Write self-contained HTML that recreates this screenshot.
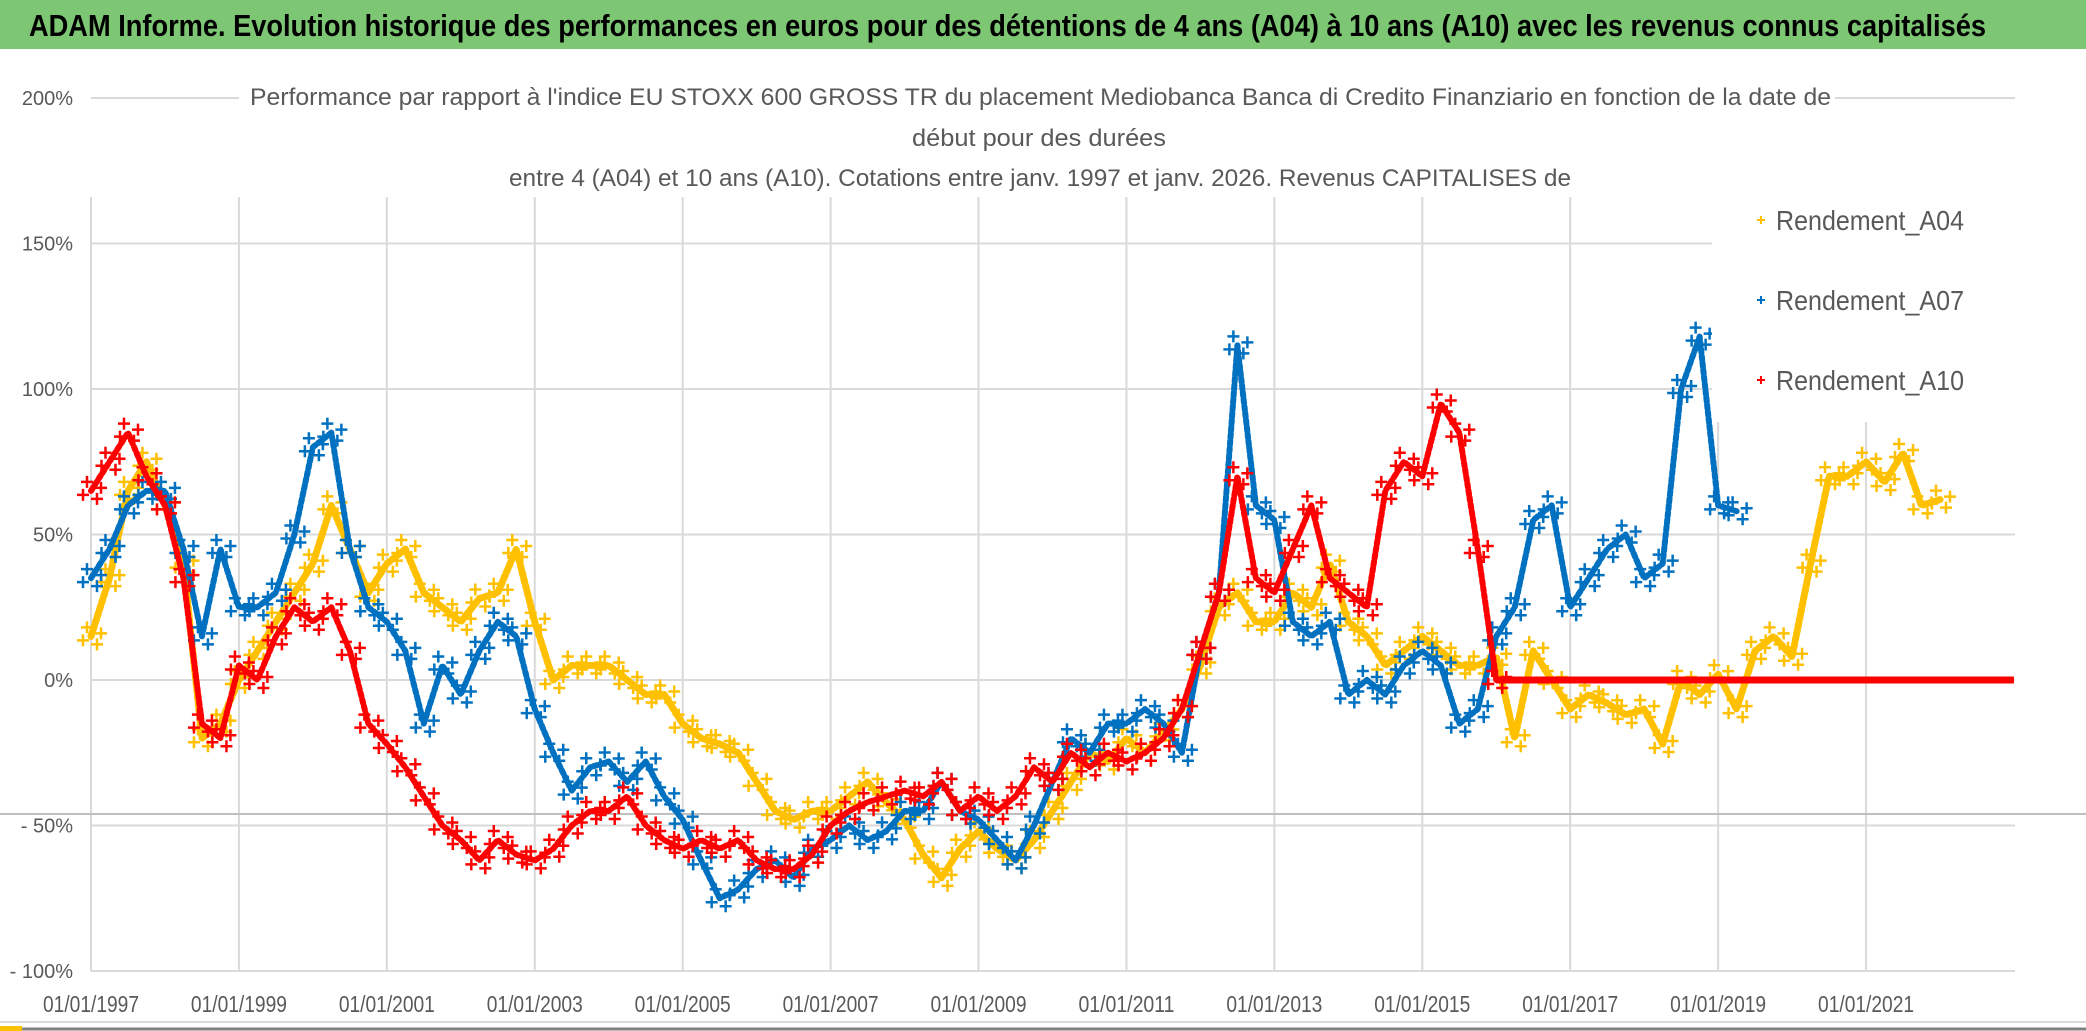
<!DOCTYPE html>
<html><head><meta charset="utf-8"><style>
html,body{margin:0;padding:0;background:#fff;}
svg{display:block;}
text{font-family:"Liberation Sans Narrow","Liberation Sans",sans-serif;}
</style></head><body>
<svg id="chart" width="2086" height="1031" viewBox="0 0 2086 1031" xmlns="http://www.w3.org/2000/svg">
<rect x="0" y="0" width="2086" height="1031" fill="#fff"/>
<rect x="0" y="0" width="2086" height="49" fill="#7dc674"/>
<text x="29" y="36" font-size="31" font-weight="bold" fill="#000" textLength="1957" lengthAdjust="spacingAndGlyphs">ADAM Informe. Evolution historique des performances en euros pour des détentions de 4 ans (A04) à 10 ans (A10) avec les revenus connus capitalisés</text>
<g id="grid"></g>
<line x1="0" y1="814" x2="2086" y2="814" stroke="#bfbfbf" stroke-width="2"/>
<g id="series"></g>
<rect x="239" y="55" width="1596" height="142" fill="#fff"/>
<rect x="1712" y="197" width="303" height="225" fill="#fff"/>
<g fill="#595959" font-size="24">
<text x="250" y="105" textLength="1581" lengthAdjust="spacingAndGlyphs">Performance par rapport à l'indice EU STOXX 600 GROSS TR  du placement Mediobanca Banca di Credito Finanziario en fonction de la date de</text>
<text x="912" y="146" textLength="254" lengthAdjust="spacingAndGlyphs">début pour des durées</text>
<text x="509" y="186" textLength="1062" lengthAdjust="spacingAndGlyphs">entre 4 (A04) et 10 ans (A10). Cotations entre janv. 1997 et janv. 2026. Revenus CAPITALISES de</text>
</g>
<g id="legend"></g>
<g id="yaxis"></g>
<g id="xaxis"></g>
<line x1="0" y1="1022" x2="2086" y2="1022" stroke="#d9d9d9" stroke-width="2"/>
<line x1="0" y1="1029" x2="2086" y2="1029" stroke="#808080" stroke-width="3"/>
<rect x="0" y="1026" width="22" height="5" fill="#ffc000"/>
</svg>
<script>
// ---- data ----
const xTickYears = [1997,1999,2001,2003,2005,2007,2009,2011,2013,2015,2017,2019,2021];
const xTickLabels = ["01/01/1997","01/01/1999","01/01/2001","01/01/2003","01/01/2005","01/01/2007","01/01/2009","01/01/2011","01/01/2013","01/01/2015","01/01/2017","01/01/2019","01/01/2021"];
const yTicks = [200,150,100,50,0,-50,-100];
const yTickLabels = ["200%","150%","100%","50%","0%","- 50%","- 100%"];
const seriesNames = ["Rendement_A04","Rendement_A07","Rendement_A10"];
const seriesStart = 1997;
const seriesStep = 0.25;
const a04Values = [15,35,65,75,60,40,-20,-15,0,10,20,30,40,60,45,30,40,45,30,25,20,28,30,45,20,0,5,5,5,0,-5,-5,-15,-20,-22,-25,-35,-45,-48,-45,-45,-40,-35,-42,-48,-60,-68,-58,-52,-58,-62,-55,-45,-35,-25,-28,-20,-25,-18,-10,5,25,30,20,20,30,25,40,20,15,5,10,15,10,5,5,8,-20,10,0,-10,-5,-8,-12,-10,-22,0,-5,2,-10,10,15,8,40,70,70,75,68,78,60,62];
const a04TailYears = [2022.25,2023.0];
const a04TailValues = [0,0];
const a07Values = [35,45,60,65,65,45,15,45,25,25,30,50,80,85,45,25,20,10,-15,5,-5,10,20,15,-10,-25,-38,-30,-28,-35,-28,-40,-48,-62,-75,-72,-65,-62,-68,-58,-55,-50,-55,-52,-45,-45,-35,-45,-48,-55,-62,-50,-35,-20,-25,-15,-15,-10,-15,-25,10,30,115,60,55,20,15,20,-5,0,-5,5,10,5,-15,-10,15,25,55,60,25,35,45,50,35,40,100,118,60,58];
const a10Values = [65,75,85,70,60,35,-15,-20,5,0,15,25,20,25,10,-15,-22,-30,-40,-50,-55,-62,-55,-60,-62,-58,-50,-45,-45,-40,-50,-55,-58,-55,-58,-55,-62,-65,-65,-60,-50,-45,-42,-40,-38,-40,-35,-45,-40,-45,-40,-30,-35,-25,-30,-25,-28,-25,-20,-10,10,30,70,35,30,45,60,35,30,25,65,75,70,95,85,45,0];
const a10TailYears = [2016.0,2023.0];
const a10TailValues = [0,0];
const seriesColors = ["#ffc000","#0070c0","#ff0000"];

// ---- axes ----
const X0 = 91, PX_PER_YEAR = 73.96, Y0 = 680, PX_PER_PCT = 2.91;
const xScale = y => X0 + (y - 1997) * PX_PER_YEAR;
const yScale = v => Y0 - v * PX_PER_PCT;
const PLOT_R = 2015;
const NS = "http://www.w3.org/2000/svg";
function mk(tag, attrs, parent){ const e=document.createElementNS(NS,tag); for(const k in attrs) e.setAttribute(k,attrs[k]); parent.appendChild(e); return e; }

const grid = document.getElementById('grid');
yTicks.forEach(v => {
  const l = mk('line',{x1:X0,x2:PLOT_R,y1:yScale(v),y2:yScale(v),stroke:'#d9d9d9','stroke-width':2},grid);
  
  
});
xTickYears.forEach(y => {
  const l = mk('line',{x1:xScale(y),x2:xScale(y),y1:197,y2:yScale(-100),stroke:'#d9d9d9','stroke-width':2},grid);
  
  
});

const yaxis = document.getElementById('yaxis');
yTicks.forEach((v,i) => {
  const t = mk('text',{x:73,y:yScale(v)+7,'text-anchor':'end','font-size':20,fill:'#595959'},yaxis);
  t.textContent = yTickLabels[i];
  
  
});
const xaxis = document.getElementById('xaxis');
xTickYears.forEach((y,i) => {
  const t = mk('text',{x:xScale(y)-48,y:1012,'font-size':23,fill:'#595959',textLength:96,lengthAdjust:'spacingAndGlyphs'},xaxis);
  t.textContent = xTickLabels[i];
  
  
});

// ---- series ----
const layer = document.getElementById('series');
function plus(g, x, y, s, color, w){
  mk('path',{d:`M${x-s} ${y}H${x+s}M${x} ${y-s}V${y+s}`,stroke:color,'stroke-width':w,fill:'none'},g);
}
function drawSeries(name, values, tailYears, tailValues, color, width){
  const g = mk('g',{},layer);
  
  
  const pts = values.map((v,i)=>[xScale(seriesStart+i*seriesStep), yScale(v)]);
  mk('polyline',{points:pts.map(p=>p.join(',')).join(' '),fill:'none',stroke:color,'stroke-width':width,'stroke-linejoin':'round','stroke-linecap':'round','stroke-dasharray':'4 3'},g);
  pts.forEach(p=>{
    plus(g,p[0]-4,p[1]-9,6,color,2.5);
    plus(g,p[0]+6,p[1]+8,6,color,2.5);
    plus(g,p[0]+10,p[1]-3,6,color,2.5);
    plus(g,p[0]-8,p[1]+4,6,color,2.5);
  });
  if(tailYears){
    mk('line',{x1:xScale(tailYears[0]),x2:xScale(tailYears[1]),y1:yScale(tailValues[0]),y2:yScale(tailValues[1]),stroke:color,'stroke-width':7},g);
  }
}
drawSeries('series-a04', a04Values, a04TailYears, a04TailValues, seriesColors[0], 7);
drawSeries('series-a07', a07Values, null, null, seriesColors[1], 6);
drawSeries('series-a10', a10Values, a10TailYears, a10TailValues, seriesColors[2], 6);

// ---- legend ----
const legend = document.getElementById('legend');
const legendY = [220,300,380];
seriesNames.forEach((n,i)=>{
  const g = mk('g',{},legend);
  
  
  plus(g,1761,legendY[i],4,seriesColors[i],2);
  const t = mk('text',{x:1776,y:legendY[i]+10,'font-size':28,fill:'#595959',textLength:188,lengthAdjust:'spacingAndGlyphs'},g);
  t.textContent = n;
});
</script>
</body></html>
